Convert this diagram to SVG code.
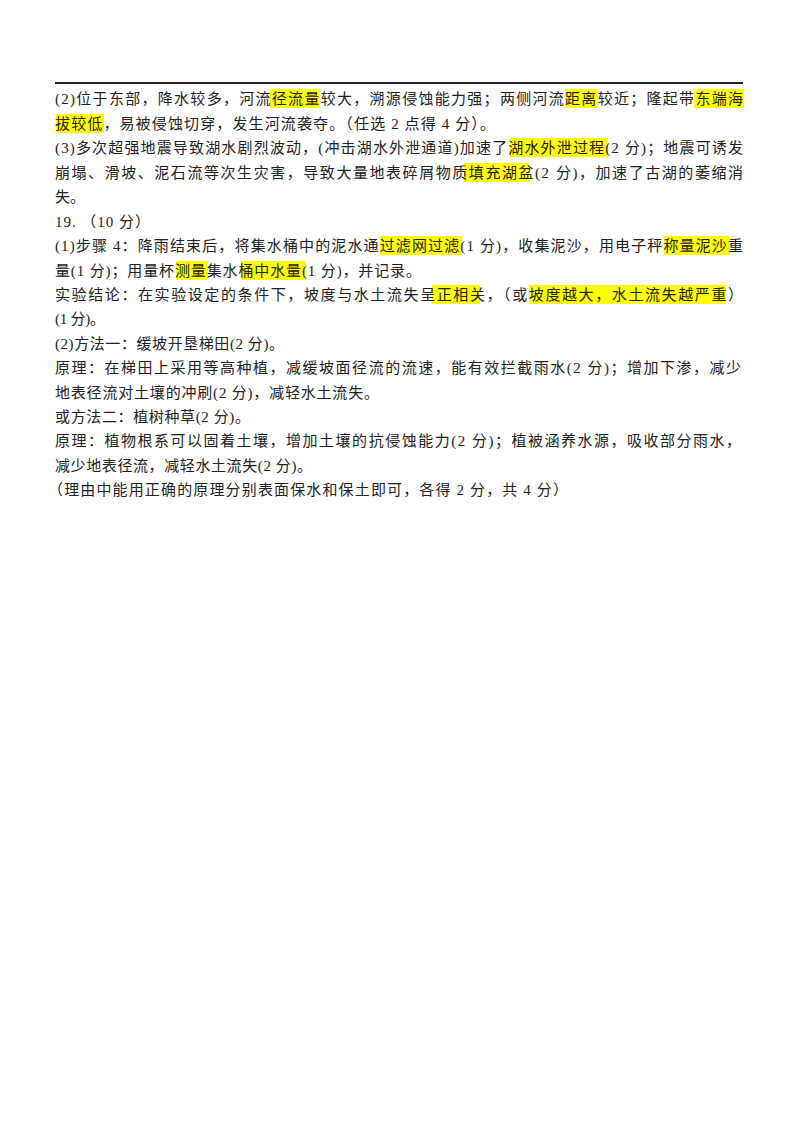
<svg xmlns="http://www.w3.org/2000/svg" width="800" height="1130" viewBox="0 0 800 1130">
<style>
text{font-family:"Liberation Serif","Noto Sans CJK SC",serif;font-size:15px;fill:#222}
.h{fill:#ffff00}
</style>
<rect width="800" height="1130" fill="#fff"/>
<line x1="55" y1="83" x2="743" y2="83" stroke="#222" stroke-width="2"/>
<g id="highlights">
<rect class="h" x="270" y="89" width="50" height="19"/>
<rect class="h" x="565" y="89" width="33" height="19"/>
<rect class="h" x="694" y="89" width="50" height="19"/>
<rect class="h" x="56" y="114" width="48" height="19"/>
<rect class="h" x="510" y="138" width="98" height="19"/>
<rect class="h" x="464" y="163" width="65" height="19"/>
<rect class="h" x="380" y="236" width="82" height="19"/>
<rect class="h" x="664" y="236" width="66" height="19"/>
<rect class="h" x="176" y="261" width="32" height="19"/>
<rect class="h" x="241" y="261" width="65" height="19"/>
<rect class="h" x="432" y="285" width="48" height="19"/>
<rect class="h" x="529" y="285" width="197" height="19"/>
</g>
<g id="text">
<text x="55" y="104" textLength="688" lengthAdjust="spacing">(2)位于东部，降水较多，河流径流量较大，溯源侵蚀能力强；两侧河流距离较近；隆起带东端海</text>
<text x="55" y="129" textLength="440" lengthAdjust="spacing">拔较低，易被侵蚀切穿，发生河流袭夺。（任选 2 点得 4 分）。</text>
<text x="55" y="153" textLength="688" lengthAdjust="spacing">(3)多次超强地震导致湖水剧烈波动，(冲击湖水外泄通道)加速了湖水外泄过程(2 分)；地震可诱发</text>
<text x="55" y="178" textLength="688" lengthAdjust="spacing">崩塌、滑坡、泥石流等次生灾害，导致大量地表碎屑物质填充湖盆(2 分)，加速了古湖的萎缩消</text>
<text x="55" y="202">失。</text>
<text x="55" y="227" textLength="95" lengthAdjust="spacing">19. （10 分）</text>
<text x="55" y="251" textLength="688" lengthAdjust="spacing">(1)步骤 4：降雨结束后，将集水桶中的泥水通过滤网过滤(1 分)，收集泥沙，用电子秤称量泥沙重</text>
<text x="55" y="276" textLength="366" lengthAdjust="spacing">量(1 分)；用量杯测量集水桶中水量(1 分)，并记录。</text>
<text x="55" y="300" textLength="688" lengthAdjust="spacing">实验结论：在实验设定的条件下，坡度与水土流失呈正相关，（或坡度越大，水土流失越严重）</text>
<text x="55" y="324" textLength="50" lengthAdjust="spacing">(1 分)。</text>
<text x="55" y="349" textLength="229" lengthAdjust="spacing">(2)方法一：缓坡开垦梯田(2 分)。</text>
<text x="55" y="373" textLength="686" lengthAdjust="spacing">原理：在梯田上采用等高种植，减缓坡面径流的流速，能有效拦截雨水(2 分)；增加下渗，减少</text>
<text x="55" y="398" textLength="324" lengthAdjust="spacing">地表径流对土壤的冲刷(2 分)，减轻水土流失。</text>
<text x="55" y="422" textLength="195" lengthAdjust="spacing">或方法二：植树种草(2 分)。</text>
<text x="55" y="446" textLength="686" lengthAdjust="spacing">原理：植物根系可以固着土壤，增加土壤的抗侵蚀能力(2 分)；植被涵养水源，吸收部分雨水，</text>
<text x="55" y="471" textLength="257" lengthAdjust="spacing">减少地表径流，减轻水土流失(2 分)。</text>
<text x="48" y="495" textLength="520" lengthAdjust="spacing">（理由中能用正确的原理分别表面保水和保土即可，各得 2 分，共 4 分）</text>
</g>
</svg>
